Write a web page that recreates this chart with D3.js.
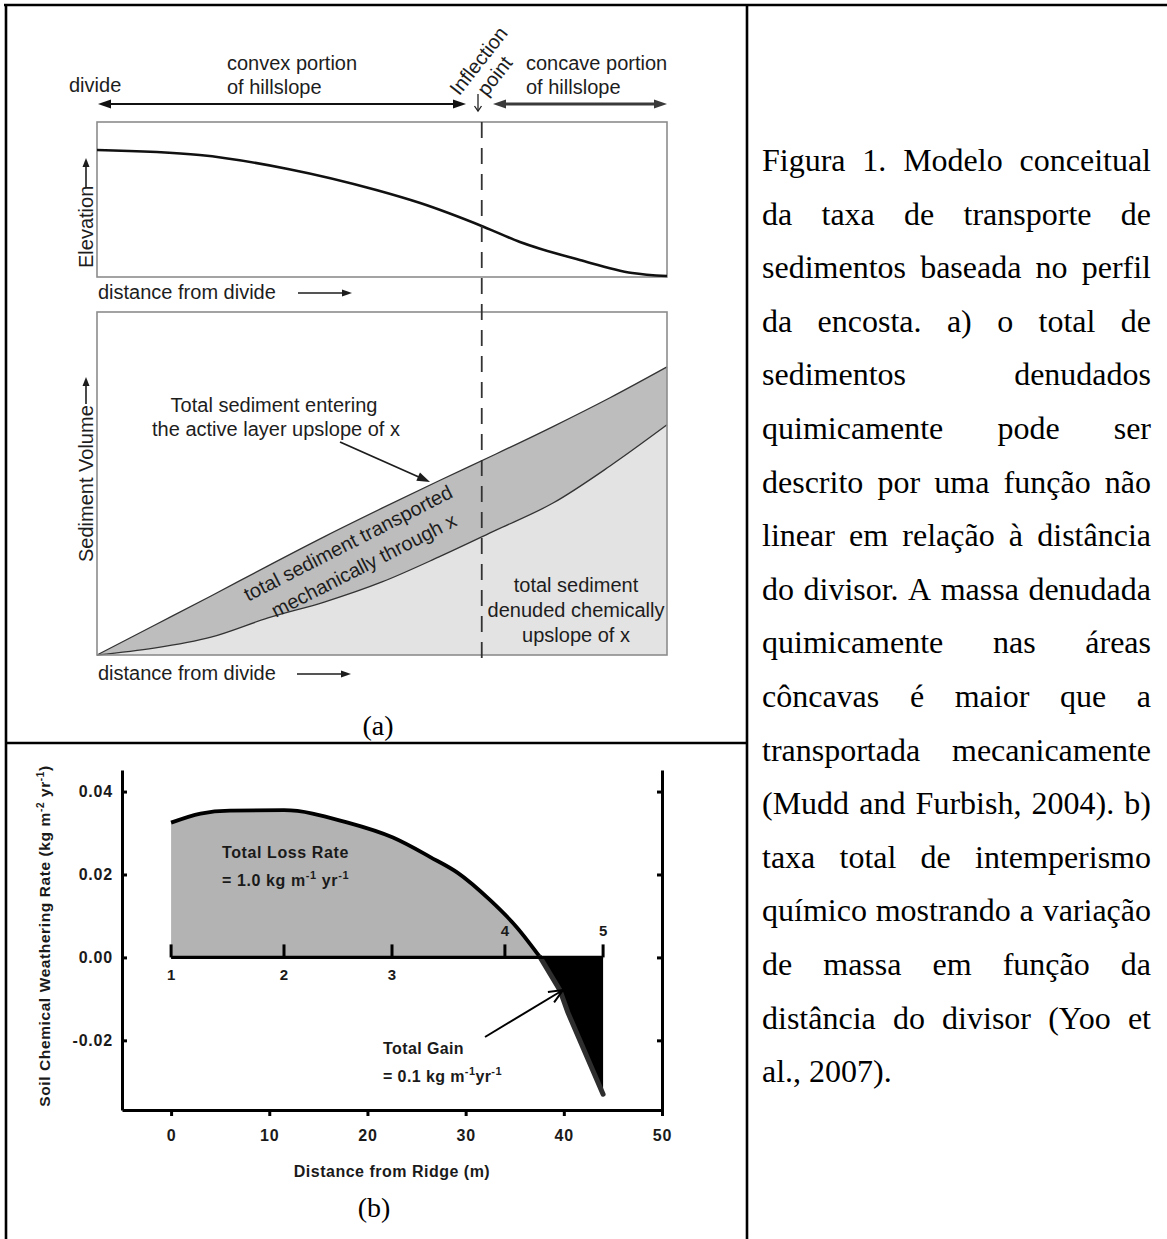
<!DOCTYPE html>
<html lang="pt">
<head>
<meta charset="utf-8">
<title>Figura 1</title>
<script src="https://cdn.jsdelivr.net/npm/d3@7"></script>
<style>
  html, body { margin: 0; padding: 0; background: #fff; }
  svg { display: block; }
</style>
</head>
<body>
<svg id="fig" width="1167" height="1239" xmlns="http://www.w3.org/2000/svg"></svg>
<script>
// ---------- (a) hillslope profile, relative units ----------
const profileDistance  = [0, 18, 33.5, 49, 56.7, 67.9, 74.2, 84.7, 93.9, 100];
const profileElevation = [81.9, 78.7, 69.7, 56.1, 47.7, 32.3, 22.6, 11.0, 2.6, 0.6];
const inflectionDistance = 67.5;

// ---------- (a) cumulative sediment volume, relative units ----------
const sedimentDistance  = [0, 10, 20, 30, 40, 50, 60, 70, 80, 90, 100];
const sedimentEntering  = [0, 8.6, 17.2, 26.0, 34.6, 42.8, 50.8, 58.6, 66.6, 75.0, 84.0];
const denudedChemically = [0, 2.0, 5.2, 10.8, 15.5, 21.3, 28.6, 36.4, 44.3, 55.1, 67.1];

// ---------- (b) soil chemical weathering rate vs distance from ridge ----------
const lossDistance = [0, 3, 6, 11.5, 18, 22.6, 26.4, 29.2, 32.5, 35.2, 37.6];
const lossRate     = [0.0325, 0.0347, 0.0354, 0.0355, 0.0325, 0.0289, 0.0242, 0.0204, 0.0138, 0.0073, 0];
const gainDistance = [37.6, 39.6, 40.4, 44.0];
const gainRate     = [0, -0.0079, -0.0132, -0.0330];
const siteDistance = [0, 11.5, 22.5, 34, 44];
const siteLabels   = ["1", "2", "3", "4", "5"];
const rateTicks     = [-0.02, 0, 0.02, 0.04];
const distanceTicks = [0, 10, 20, 30, 40, 50];

// ---------- caption ----------
const captionLines = [
  "Figura 1. Modelo conceitual",
  "da taxa de transporte de",
  "sedimentos baseada no perfil",
  "da encosta. a) o total de",
  "sedimentos denudados",
  "quimicamente pode ser",
  "descrito por uma função não",
  "linear em relação à distância",
  "do divisor. A massa denudada",
  "quimicamente nas áreas",
  "côncavas é maior que a",
  "transportada mecanicamente",
  "(Mudd and Furbish, 2004). b)",
  "taxa total de intemperismo",
  "químico mostrando a variação",
  "de massa em função da",
  "distância do divisor (Yoo et",
  "al., 2007)."
];

const svg = d3.select("#fig");
const W = 1167, H = 1239;
const SANS = "'Liberation Sans', Arial, Helvetica, sans-serif";
const SERIF = "'Liberation Serif', 'Times New Roman', Times, serif";

// ---------- helpers ----------
function arrowHead(g, x1, y1, x2, y2, len, half, color, open, w) {
  const a = Math.atan2(y2 - y1, x2 - x1);
  const bx = x2 - len * Math.cos(a), by = y2 - len * Math.sin(a);
  const px = -Math.sin(a) * half, py = Math.cos(a) * half;
  if (open) {
    g.append("path")
      .attr("d", `M${bx + px},${by + py}L${x2},${y2}L${bx - px},${by - py}`)
      .attr("fill", "none").attr("stroke", color).attr("stroke-width", w || 1.5);
  } else {
    g.append("path")
      .attr("d", `M${x2},${y2}L${bx + px},${by + py}L${bx - px},${by - py}Z`)
      .attr("fill", color);
  }
}
function arrow(g, x1, y1, x2, y2, opt) {
  const o = Object.assign({ color: "#111", w: 1.8, len: 12, half: 4.5, open: false, both: false }, opt);
  const a = Math.atan2(y2 - y1, x2 - x1);
  const inset = o.open ? 0 : o.len * 0.8;
  const sx = o.both ? x1 + inset * Math.cos(a) : x1, sy = o.both ? y1 + inset * Math.sin(a) : y1;
  g.append("line")
    .attr("x1", sx).attr("y1", sy)
    .attr("x2", x2 - inset * Math.cos(a)).attr("y2", y2 - inset * Math.sin(a))
    .attr("stroke", o.color).attr("stroke-width", o.w);
  arrowHead(g, x1, y1, x2, y2, o.len, o.half, o.color, o.open, o.w);
  if (o.both) arrowHead(g, x2, y2, x1, y1, o.len, o.half, o.color, o.open, o.w);
}
// text with superscript pieces: parts = [[string, isSup], ...]
function richText(sel, parts, supSize, shift) {
  let up = false;
  parts.forEach(([s, sup]) => {
    const t = sel.append("tspan").text(s);
    if (sup && !up) { t.attr("dy", -shift).attr("font-size", supSize); up = true; }
    else if (sup) { t.attr("font-size", supSize); }
    else if (!sup && up) { t.attr("dy", shift); up = false; }
  });
  return sel;
}

// ---------- table frame ----------
const frame = svg.append("g").attr("stroke", "#000").attr("stroke-width", 2.6).attr("fill", "none");
frame.append("line").attr("x1", 4).attr("x2", W).attr("y1", 5).attr("y2", 5);
frame.append("line").attr("x1", 6).attr("x2", 6).attr("y1", 4).attr("y2", H);
frame.append("line").attr("x1", 747).attr("x2", 747).attr("y1", 4).attr("y2", H);
frame.append("line").attr("x1", 6).attr("x2", 747).attr("y1", 743).attr("y2", 743);

// ================= panel (a) =================
const pa = svg.append("g").attr("font-family", SANS).attr("font-size", 20).attr("fill", "#1d1d1d");

const xA = d3.scaleLinear().domain([0, 100]).range([97, 667]);
const yElev = d3.scaleLinear().domain([0, 100]).range([277, 122]);
const ySed = d3.scaleLinear().domain([0, 100]).range([655, 312]);

// header labels and arrows
pa.append("text").attr("x", 69).attr("y", 92).text("divide");
pa.append("text").attr("x", 227).attr("y", 70).text("convex portion");
pa.append("text").attr("x", 227).attr("y", 94).text("of hillslope");
pa.append("text").attr("x", 526).attr("y", 70).text("concave portion");
pa.append("text").attr("x", 526).attr("y", 94).text("of hillslope");
const infl = pa.append("g").attr("transform", "translate(484,65) rotate(-52)");
infl.append("text").attr("text-anchor", "middle").attr("x", 0).attr("y", 0).text("Inflection");
infl.append("text").attr("text-anchor", "middle").attr("x", -2).attr("y", 22).text("point");

arrow(pa, 98, 104, 466, 104, { both: true, w: 2, len: 13, half: 4.5, color: "#111" });
arrow(pa, 493, 104, 667, 104, { both: true, w: 3, len: 13, half: 4.5, color: "#3a3a3a" });
arrow(pa, 478, 94, 478, 111, { open: true, w: 1.3, len: 5, half: 3.5, color: "#222" });

// elevation profile box
pa.append("rect").attr("x", xA(0)).attr("y", yElev(100)).attr("width", xA(100) - xA(0))
  .attr("height", yElev(0) - yElev(100)).attr("fill", "none").attr("stroke", "#8c8c8c").attr("stroke-width", 1.6);
const profile = profileDistance.map((d, i) => [d, profileElevation[i]]);
pa.append("path").datum(profile)
  .attr("d", d3.line().x(d => xA(d[0])).y(d => yElev(d[1])).curve(d3.curveMonotoneX))
  .attr("fill", "none").attr("stroke", "#111").attr("stroke-width", 2.6);

// elevation axis label
pa.append("text").attr("transform", "translate(93,268) rotate(-90)").text("Elevation");
arrow(pa, 86, 188, 86, 158, { w: 1.6, len: 9, half: 3.5, color: "#1d1d1d" });
pa.append("text").attr("x", 98).attr("y", 299).text("distance from divide");
arrow(pa, 298, 293, 352, 293, { w: 1.6, len: 10, half: 3.5, color: "#1d1d1d" });

// sediment volume box
const sed = sedimentDistance.map((d, i) => ({ d, up: sedimentEntering[i], lo: denudedChemically[i] }));
pa.append("path").datum(sed)
  .attr("d", d3.area().x(p => xA(p.d)).y0(ySed(0)).y1(p => ySed(p.lo)).curve(d3.curveMonotoneX))
  .attr("fill", "#e3e3e3");
pa.append("path").datum(sed)
  .attr("d", d3.area().x(p => xA(p.d)).y0(p => ySed(p.lo)).y1(p => ySed(p.up)).curve(d3.curveMonotoneX))
  .attr("fill", "#bdbdbd");
pa.append("path").datum(sed)
  .attr("d", d3.line().x(p => xA(p.d)).y(p => ySed(p.up)).curve(d3.curveMonotoneX))
  .attr("fill", "none").attr("stroke", "#333").attr("stroke-width", 1.3);
pa.append("path").datum(sed)
  .attr("d", d3.line().x(p => xA(p.d)).y(p => ySed(p.lo)).curve(d3.curveMonotoneX))
  .attr("fill", "none").attr("stroke", "#333").attr("stroke-width", 1.3);
pa.append("rect").attr("x", xA(0)).attr("y", ySed(100)).attr("width", xA(100) - xA(0))
  .attr("height", ySed(0) - ySed(100)).attr("fill", "none").attr("stroke", "#8c8c8c").attr("stroke-width", 1.6);

// inflection point marker
pa.append("line").attr("x1", xA(inflectionDistance)).attr("x2", xA(inflectionDistance))
  .attr("y1", yElev(100)).attr("y2", ySed(0) + 5)
  .attr("stroke", "#333").attr("stroke-width", 1.8).attr("stroke-dasharray", "16,10");

// annotations inside the sediment box
pa.append("text").attr("x", 274).attr("y", 412).attr("text-anchor", "middle").text("Total sediment entering");
pa.append("text").attr("x", 276).attr("y", 436).attr("text-anchor", "middle").text("the active layer upslope of x");
arrow(pa, 340, 442, 430, 482, { w: 1.8, len: 13, half: 4.5, color: "#1d1d1d" });
const band = pa.append("g").attr("transform", "translate(348,543) rotate(-27)");
band.append("text").attr("text-anchor", "middle").attr("x", 0).attr("y", 7).text("total sediment transported");
band.append("text").attr("text-anchor", "middle").attr("x", 4).attr("y", 34).text("mechanically through x");
pa.append("text").attr("x", 576).attr("y", 592).attr("text-anchor", "middle").text("total sediment");
pa.append("text").attr("x", 576).attr("y", 617).attr("text-anchor", "middle").text("denuded chemically");
pa.append("text").attr("x", 576).attr("y", 642).attr("text-anchor", "middle").text("upslope of x");

pa.append("text").attr("transform", "translate(93,562) rotate(-90)").text("Sediment Volume");
arrow(pa, 86, 404, 86, 377, { w: 1.6, len: 9, half: 3.5, color: "#1d1d1d" });
pa.append("text").attr("x", 98).attr("y", 680).text("distance from divide");
arrow(pa, 297, 674, 351, 674, { w: 1.6, len: 10, half: 3.5, color: "#1d1d1d" });

svg.append("text").attr("x", 378).attr("y", 735).attr("text-anchor", "middle")
  .attr("font-family", SERIF).attr("font-size", 28).text("(a)");

// ================= panel (b) =================
const pb = svg.append("g").attr("font-family", SANS).attr("font-weight", "bold").attr("fill", "#1a1a1a");
const xB = d3.scaleLinear().domain([-5, 50]).range([122, 662]);
const yB = d3.scaleLinear().domain([-0.0368, 0.0452]).range([1110, 770]);

const loss = lossDistance.map((d, i) => [d, lossRate[i]]);
const gain = gainDistance.map((d, i) => [d, gainRate[i]]);

pb.append("path").datum(loss)
  .attr("d", d3.area().x(d => xB(d[0])).y0(yB(0)).y1(d => yB(d[1])).curve(d3.curveMonotoneX))
  .attr("fill", "#b3b3b3");
pb.append("path").datum(gain)
  .attr("d", d3.area().x(d => xB(d[0])).y0(yB(0)).y1(d => yB(d[1])))
  .attr("fill", "#000");
pb.append("path").datum(loss)
  .attr("d", d3.line().x(d => xB(d[0])).y(d => yB(d[1])).curve(d3.curveMonotoneX))
  .attr("fill", "none").attr("stroke", "#000").attr("stroke-width", 3.8);
pb.append("path").datum(gain)
  .attr("d", d3.line().x(d => xB(d[0])).y(d => yB(d[1])))
  .attr("fill", "none").attr("stroke", "#2e2e2e").attr("stroke-width", 5).attr("stroke-linecap", "round");

// sampling sites along the zero line
pb.append("line").attr("x1", xB(siteDistance[0])).attr("x2", xB(siteDistance[siteDistance.length - 1]))
  .attr("y1", yB(0)).attr("y2", yB(0)).attr("stroke", "#000").attr("stroke-width", 3.2);
siteDistance.forEach((d, i) => {
  pb.append("line").attr("x1", xB(d)).attr("x2", xB(d)).attr("y1", yB(0)).attr("y2", yB(0) - 13)
    .attr("stroke", "#000").attr("stroke-width", 3);
  pb.append("text").attr("x", xB(d)).attr("y", i < 3 ? yB(0) + 23 : yB(0) - 21)
    .attr("text-anchor", "middle").attr("font-size", 15).text(siteLabels[i]);
});

// axes
const axisStyle = g => {
  g.select(".domain").attr("stroke", "#000").attr("stroke-width", 3);
  g.selectAll(".tick line").attr("stroke", "#000").attr("stroke-width", 3);
  g.selectAll(".tick text").attr("font-family", SANS).attr("font-weight", "bold")
    .attr("font-size", 16).attr("letter-spacing", 0.8).attr("fill", "#1a1a1a");
};
pb.append("g").attr("transform", `translate(${xB(-5)},0)`)
  .call(d3.axisLeft(yB).tickValues(rateTicks).tickSize(-5).tickSizeOuter(0).tickPadding(9)
    .tickFormat(d => d.toFixed(2)))
  .call(axisStyle);
pb.append("g").attr("transform", `translate(${xB(50)},0)`)
  .call(d3.axisRight(yB).tickValues(rateTicks).tickSize(-5).tickSizeOuter(0).tickFormat(""))
  .call(axisStyle);
pb.append("g").attr("transform", `translate(0,${yB.range()[0]})`)
  .call(d3.axisBottom(xB).tickValues(distanceTicks).tickSize(6).tickSizeOuter(0).tickPadding(14)
    .tickFormat(d3.format("d")))
  .call(axisStyle);

// annotations
richText(pb.append("text").attr("x", 222).attr("y", 858).attr("font-size", 16).attr("letter-spacing", 0.6),
  [["Total Loss Rate", false]], 11, 6);
richText(pb.append("text").attr("x", 222).attr("y", 886).attr("font-size", 16).attr("letter-spacing", 0.6),
  [["= 1.0 kg m", false], ["-1", true], [" yr", false], ["-1", true]], 11, 7);
richText(pb.append("text").attr("x", 383).attr("y", 1054).attr("font-size", 16).attr("letter-spacing", 0.4),
  [["Total Gain", false]], 11, 6);
richText(pb.append("text").attr("x", 383).attr("y", 1082).attr("font-size", 16).attr("letter-spacing", 0.4),
  [["= 0.1 kg m", false], ["-1", true], ["yr", false], ["-1", true]], 11, 7);
arrow(pb, 485, 1037, 563, 990, { open: true, w: 2, len: 14, half: 6, color: "#000" });

// axis titles
richText(pb.append("text").attr("transform", "translate(50,936) rotate(-90)").attr("text-anchor", "middle")
  .attr("font-size", 15.5).attr("letter-spacing", 0.6),
  [["Soil Chemical Weathering Rate (kg m", false], ["-2", true], [" yr", false], ["-1", true], [")", false]], 10, 6);
pb.append("text").attr("x", (xB(-5) + xB(50)) / 2).attr("y", 1177).attr("text-anchor", "middle")
  .attr("font-size", 16).attr("letter-spacing", 0.5).text("Distance from Ridge (m)");

svg.append("text").attr("x", 374).attr("y", 1217).attr("text-anchor", "middle")
  .attr("font-family", SERIF).attr("font-size", 28).text("(b)");

// ================= caption (justified) =================
const cap = svg.append("g").attr("font-family", SERIF).attr("font-size", 32).attr("fill", "#000");
const capLeft = 762, capRight = 1151, capTop = 171, capStep = 53.6;
captionLines.forEach((line, i) => {
  const words = line.split(" ");
  const t = cap.append("text").attr("y", capTop + i * capStep);
  const spans = words.map(w => t.append("tspan").text(w));
  const widths = spans.map(s => s.node().getComputedTextLength());
  const last = i === captionLines.length - 1;
  const gap = (!last && words.length > 1)
    ? (capRight - capLeft - d3.sum(widths)) / (words.length - 1) : 8;
  let x = capLeft;
  spans.forEach((s, j) => { s.attr("x", x); x += widths[j] + gap; });
});
</script>
</body>
</html>
